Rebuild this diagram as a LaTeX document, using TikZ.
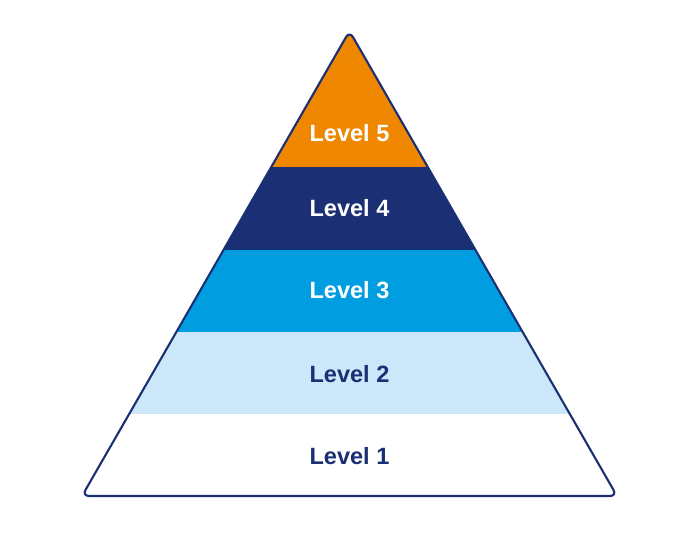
\documentclass[tikz,border=0pt]{standalone}
\usepackage{fontspec}
\setmainfont{Liberation Sans}
\usetikzlibrary{positioning}
\definecolor{lvorange}{RGB}{239,135,0}
\definecolor{lvnavy}{RGB}{27,47,117}
\definecolor{lvblue}{RGB}{0,158,224}
\definecolor{lvpale}{RGB}{204,231,250}
\begin{document}
\begin{tikzpicture}[x=0.02cm,y=-0.02cm,font=\bfseries\fontsize{13.4}{16}\selectfont,
    outline/.style={draw=lvnavy,line width=1.2pt,rounded corners=4pt,line join=round},
    lvtext/.style={inner sep=1pt}]
  \useasboundingbox (0,0) rectangle (700,560);
  % bands of the pyramid, clipped to its outline
  \begin{scope}
    \clip[rounded corners=4pt] (349.5,31) -- (617,496) -- (82,496) -- cycle;
    \foreach \ya/\yb/\col in {20/167/lvorange,167/250/lvnavy,250/332/lvblue,
                              332/414/lvpale,414/510/white}
      \fill[\col] (60,\ya) rectangle (640,\yb);
  \end{scope}
  % outline
  \draw[outline] (349.5,31) -- (617,496) -- (82,496) -- cycle;
  % level labels
  \node[lvtext,white]  (L5) at (349.5,133) {Level 5};
  \node[lvtext,white]  (L4) at (349.5,208) {Level 4};
  \node[lvtext,white]  (L3) at (349.5,290) {Level 3};
  \node[lvtext,lvnavy] (L2) at (349.5,374) {Level 2};
  \node[lvtext,lvnavy] (L1) at (349.5,456) {Level 1};
\end{tikzpicture}
\end{document}
